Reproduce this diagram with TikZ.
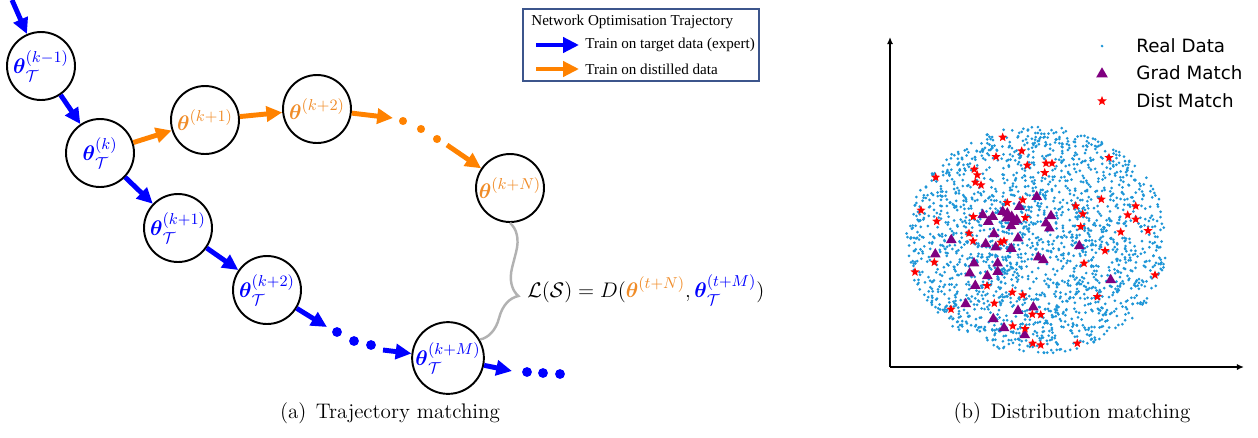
\documentclass[tikz,border=0pt]{standalone}
\usepackage{amsmath,amssymb}
\usepackage{fontspec}
\newfontfamily\legendfont{Liberation Serif}
\newfontfamily\plotfont{DejaVu Sans}
\usetikzlibrary{arrows.meta,shapes.geometric,decorations.pathreplacing}

\definecolor{expblue}{RGB}{0,0,255}
\definecolor{distorange}{RGB}{255,130,0}
\definecolor{textorange}{RGB}{240,140,40}
\definecolor{realblue}{RGB}{30,150,215}
\definecolor{gradpurple}{RGB}{128,0,128}
\definecolor{boxblue}{RGB}{60,85,140}

\newcommand{\thT}[1]{\boldsymbol{\theta}_{\mathcal{T}}^{(#1)}}
\newcommand{\thS}[1]{\boldsymbol{\theta}^{(#1)}}

\begin{document}
\begin{tikzpicture}[x=0.02cm,y=-0.02cm,
  param node/.style={circle,draw,line width=1.1pt,minimum size=1.36cm,inner sep=0pt,font=\fontsize{13}{15}\selectfont},
  expert/.style={draw=expblue,line width=2.8pt,-{Triangle[length=9pt,width=8.5pt]}},
  distil/.style={draw=distorange,line width=2.8pt,-{Triangle[length=9pt,width=8.5pt]}},
  real dot/.style={fill=realblue},
  grad mark/.style={regular polygon,regular polygon sides=3,fill=gradpurple,inner sep=0pt,minimum size=0.25cm},
  dist mark/.style={star,star points=5,star point ratio=2.3,fill=red,inner sep=0pt,minimum size=0.19cm},
  axis/.style={line width=1.1pt,-{Latex[length=4pt,width=3.5pt]}}]
  \useasboundingbox (0,0) rectangle (1258,437);

  % expert trajectory
  \node[param node,text=expblue] (tm1) at (41,66) {$\thT{k-1}$};
  \node[param node,text=expblue] (t0) at (100,153) {$\thT{k}$};
  \node[param node,text=expblue] (t1) at (178,228) {$\thT{k+1}$};
  \node[param node,text=expblue] (t2) at (267,290) {$\thT{k+2}$};
  \node[param node,text=expblue] (tM) at (448,358) {$\thT{k+M}$};

  % student trajectory
  \node[param node,text=textorange] (s1) at (205,120) {$\thS{k+1}$};
  \node[param node,text=textorange] (s2) at (317,109) {$\thS{k+2}$};
  \node[param node,text=textorange] (sN) at (510,188) {$\thS{k+N}$};

  \coordinate (bin) at (12,0);
  \coordinate (bx1) at (327,327);
  \coordinate (bx2) at (383,350);
  \coordinate (bx3) at (512,371);
  \coordinate (ox1) at (393,118);
  \coordinate (ox2) at (447,145);

  \draw[expert] (bin) -- (tm1);
  \draw[expert] (tm1) -- (t0);
  \draw[expert] (t0) -- (t1);
  \draw[expert] (t1) -- (t2);
  \draw[expert] (t2) -- (bx1);
  \draw[expert] (bx2) -- (tM);
  \draw[expert] (tM) -- (bx3);
  \draw[distil] (t0) -- (s1);
  \draw[distil] (s1) -- (s2);
  \draw[distil] (s2) -- (ox1);
  \draw[distil] (ox2) -- (sN);

  \foreach \x/\y [count=\i] in {337/332,354/341,371/345}
    \fill[expblue] (\x,\y) circle (2.8pt);
  \foreach \x/\y [count=\i] in {527/372,543/373,560/374}
    \fill[expblue] (\x,\y) circle (2.8pt);
  \foreach \x/\y [count=\i] in {403/121,421/129,437/139}
    \fill[distorange] (\x,\y) circle (2.3pt);

  % matching loss
  \draw[gray!60,line width=1.4pt,decorate,decoration={brace,amplitude=15pt,aspect=0.57}]
    (sN.south) -- (tM.30);
  \node[anchor=west,inner sep=0pt,font=\fontsize{13}{15}\selectfont] (loss) at (527,290)
    {$\mathcal{L}(\mathcal{S}) = D(\textcolor{textorange}{\thS{t+N}}, \textcolor{expblue}{\thT{t+M}})$};

  % legend
  \node[draw=boxblue,line width=1.1pt,minimum width=4.72cm,minimum height=1.44cm] (legend) at (641,45) {};
  \node[anchor=west,inner sep=0pt,font=\legendfont\fontsize{8.6}{10}\selectfont] (legtitle) at (531,22) {Network Optimisation Trajectory};
  \coordinate (lb1) at (536,45);
  \coordinate (lb2) at (579,45);
  \coordinate (lo1) at (536,69);
  \coordinate (lo2) at (579,69);
  \draw[expert,line width=2.2pt] (lb1) -- (lb2);
  \draw[distil,line width=2.2pt] (lo1) -- (lo2);
  \node[anchor=west,inner sep=0pt,font=\legendfont\fontsize{8.6}{10}\selectfont] (legexp) at (585,45) {Train on target data (expert)};
  \node[anchor=west,inner sep=0pt,font=\legendfont\fontsize{8.6}{10}\selectfont] (legdis) at (585,69) {Train on distilled data};

  \node[font=\large] (capa) at (390,413) {(a)\hspace{0.45em}Trajectory matching};

  % distribution plot
  \coordinate (origin) at (890,367);
  \draw[axis] (origin) -- (890,37);
  \draw[axis] (origin) -- (1244,367);

  \pgfmathsetseed{2718}
  \foreach \i in {1,...,2000}{
    \pgfmathsetmacro\ang{360*rnd}
    \pgfmathsetmacro\rad{sqrt(rnd)}
    \fill[real dot] ({1037+131*\rad*cos(\ang)},{240+114*\rad*sin(\ang)}) circle (0.85pt);
  }

  \foreach \x/\y [count=\i] in {1036.7/196.7,1019.3/206.7,1051/216,982.7/215,992.7/216.7,
      988.3/221.7,1002.7/211.7,1007.3/213.3,1011.7/216.7,1014/221.7,1011/226,1046/223.3,
      1049.3/228.3,994/234,1018/238.3,951.3/240,985.7/244,995.7/247.3,1011.3/248.7,
      1079.3/246,935.3/254.3,1038.3/257.3,1043.3/260,974/263.3,997.7/263.3,969.7/273.3,
      987.3/276,997.7/271.7,1110.7/280,975.3/285.7,965.7/304,1033.3/307.3,1018/310.7,
      993.3/319,1004/328,1024.7/335,1006.7/218.3,1016.7/220}
    \node[grad mark] (gm\i) at (\x,\y) {};

  \foreach \x/\y [count=\i] in {1002.7/137.3,1021.7/151,996/156.7,1109/157.7,1027.3/165.3,
      1046/163.3,1052/163.3,974.3/169.3,977.3/175,1044.7/172.7,935.7/177.3,975.3/182.3,
      981/185,1007.3/202.7,1022.7/200,1101.3/199.3,921/210.3,1135.7/206,1075.7/206,
      1082.7/214,1127.7/215,1135.7/219.3,936.7/221.3,973.3/216.7,1025.3/217.7,1080.7/226.7,
      1120.7/232,1148/230.7,969/233.3,973/241,1000.7/242.3,1004/241,1105/250.7,934.3/262.3,
      1084/263.3,915/272,1155/275,987/285.7,1012.3/292.3,1022.7/295,1097.3/296.7,
      994.3/303.3,951/309.3,1032.3/314.3,1040.7/314.7,1012.7/326,1025/328.7,1032.7/343.3,
      1040.7/345,1077.3/343.3}
    \node[dist mark] (dm\i) at (\x,\y) {};

  % plot legend
  \coordinate (kreal) at (1102,46);
  \fill[real dot] (kreal) circle (0.85pt);
  \node[grad mark,minimum size=0.27cm] (kgrad) at (1102,74) {};
  \node[dist mark,minimum size=0.2cm] (kdist) at (1102,101) {};
  \node[anchor=west,inner sep=0pt,font=\plotfont\fontsize{10.4}{12}\selectfont] (lreal) at (1136,46) {Real Data};
  \node[anchor=west,inner sep=0pt,font=\plotfont\fontsize{10.4}{12}\selectfont] (lgrad) at (1136,73) {Grad Match};
  \node[anchor=west,inner sep=0pt,font=\plotfont\fontsize{10.4}{12}\selectfont] (ldist) at (1136,101) {Dist Match};

  \node[font=\large] (capb) at (1072,413) {(b)\hspace{0.45em}Distribution matching};
\end{tikzpicture}
\end{document}
